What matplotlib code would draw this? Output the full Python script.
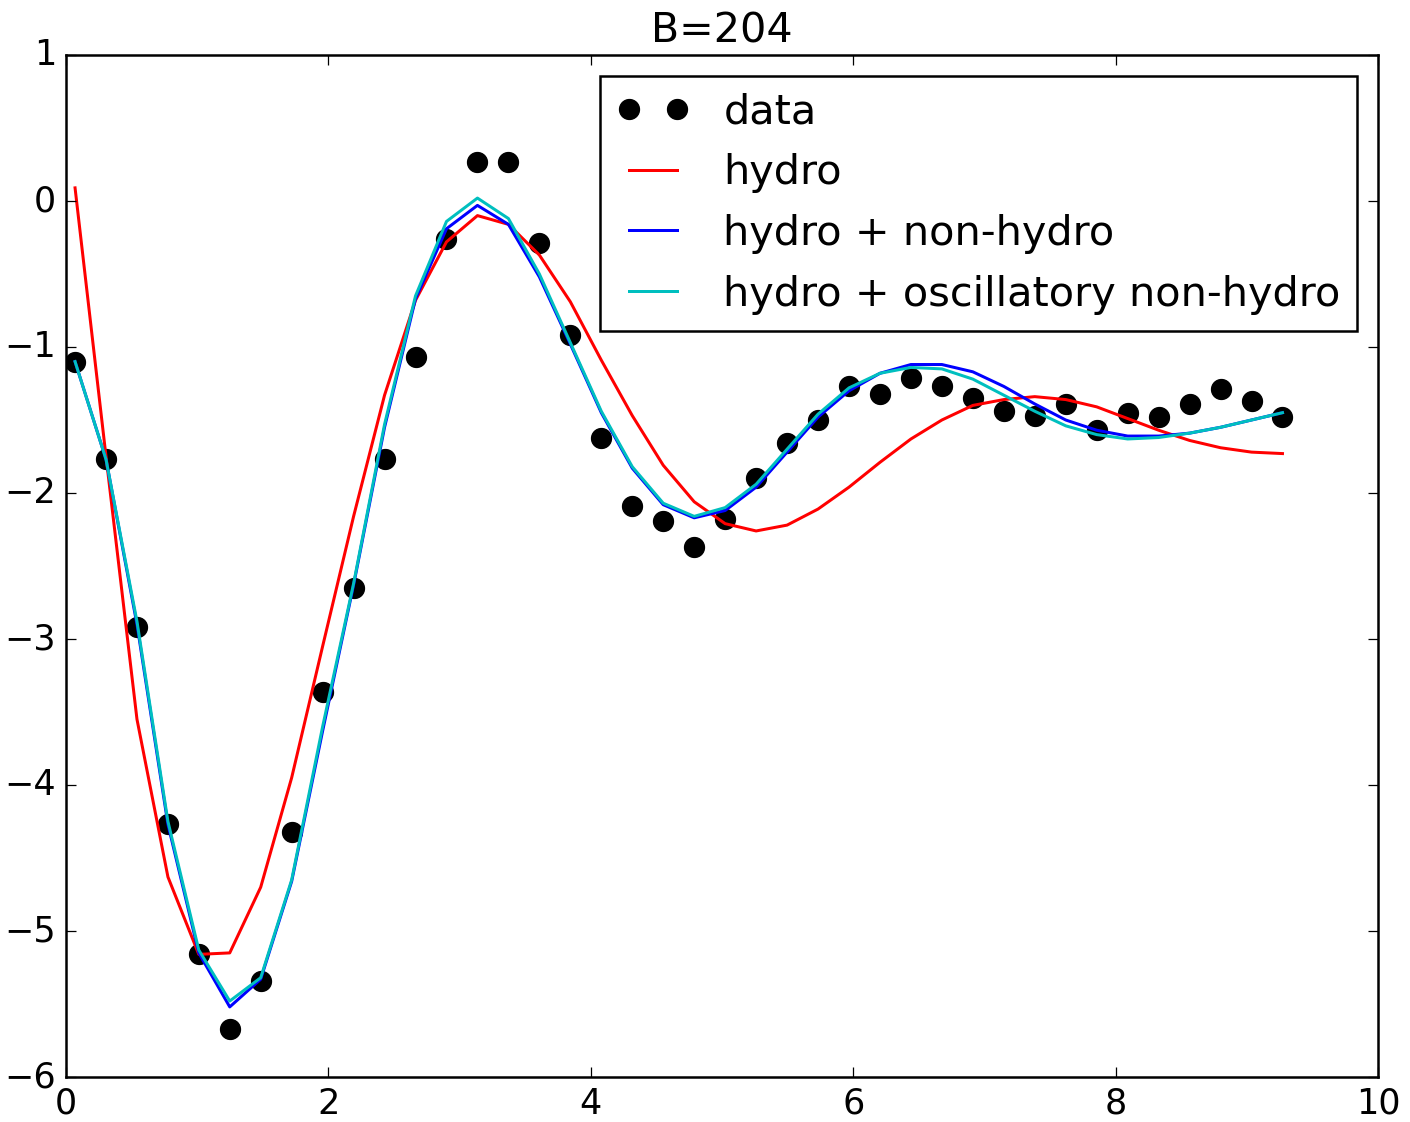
import matplotlib
matplotlib.use("Agg")
import matplotlib.pyplot as plt
import numpy as np

plt.style.use('classic')

# sample positions (shared by data and model curves)
t = np.array([0.069, 0.305, 0.541, 0.777, 1.012, 1.248, 1.484, 1.720, 1.956, 2.192,
              2.428, 2.664, 2.900, 3.136, 3.372, 3.608, 3.844, 4.080, 4.316, 4.552,
              4.788, 5.024, 5.260, 5.496, 5.732, 5.968, 6.204, 6.440, 6.676, 6.912,
              7.148, 7.384, 7.620, 7.856, 8.092, 8.328, 8.564, 8.800, 9.036, 9.272])

data = [-1.10, -1.77, -2.92, -4.27, -5.16, -5.67, -5.34, -4.32, -3.36, -2.65,
        -1.77, -1.07, -0.26, 0.27, 0.27, -0.29, -0.92, -1.62, -2.09, -2.19,
        -2.37, -2.18, -1.90, -1.66, -1.50, -1.27, -1.32, -1.21, -1.27, -1.35,
        -1.44, -1.47, -1.39, -1.57, -1.45, -1.48, -1.39, -1.29, -1.37, -1.48]

hydro = [0.09, -1.75, -3.55, -4.63, -5.16, -5.15, -4.70, -3.95, -3.05, -2.16,
         -1.33, -0.68, -0.28, -0.10, -0.16, -0.37, -0.69, -1.09, -1.47, -1.81,
         -2.06, -2.21, -2.26, -2.22, -2.11, -1.96, -1.79, -1.63, -1.50, -1.40,
         -1.36, -1.34, -1.36, -1.41, -1.49, -1.57, -1.64, -1.69, -1.72, -1.73]

hydro_nh = [-1.10, -1.77, -2.90, -4.27, -5.15, -5.52, -5.33, -4.66, -3.63, -2.63,
            -1.55, -0.67, -0.19, -0.03, -0.16, -0.52, -0.98, -1.45, -1.83, -2.08,
            -2.17, -2.12, -1.96, -1.72, -1.48, -1.30, -1.18, -1.12, -1.12, -1.17,
            -1.27, -1.39, -1.50, -1.57, -1.61, -1.61, -1.59, -1.55, -1.50, -1.45]

hydro_osc = [-1.10, -1.77, -2.88, -4.25, -5.13, -5.48, -5.32, -4.65, -3.60, -2.62,
             -1.53, -0.65, -0.14, 0.02, -0.12, -0.50, -0.97, -1.44, -1.82, -2.07,
             -2.16, -2.10, -1.94, -1.70, -1.46, -1.28, -1.18, -1.14, -1.15, -1.22,
             -1.33, -1.44, -1.54, -1.60, -1.63, -1.62, -1.59, -1.55, -1.50, -1.45]

fig = plt.figure(figsize=(1410 / 180, 1122 / 180), dpi=180, facecolor='white')
ax = fig.add_axes([66 / 1410, 1 - 1077 / 1122, 1312 / 1410, 1022 / 1122])

ax.plot(t, data, 'ko', markersize=8, label='data')
ax.plot(t, hydro, 'r-', lw=1.2, label='hydro')
ax.plot(t, hydro_nh, 'b-', lw=1.2, label='hydro + non-hydro')
ax.plot(t, hydro_osc, 'c-', lw=1.2, label='hydro + oscillatory non-hydro')

ax.set_xlim(0, 10)
ax.set_ylim(-6, 1)
ax.tick_params(labelsize=14)
ax.set_title('B=204', fontsize=16.5)
ax.legend(loc='upper right', numpoints=2, fontsize=16.6, handlelength=1.75,
          handletextpad=0.82, labelspacing=0.5)

fig.savefig('out.png', dpi=180, facecolor='white')
